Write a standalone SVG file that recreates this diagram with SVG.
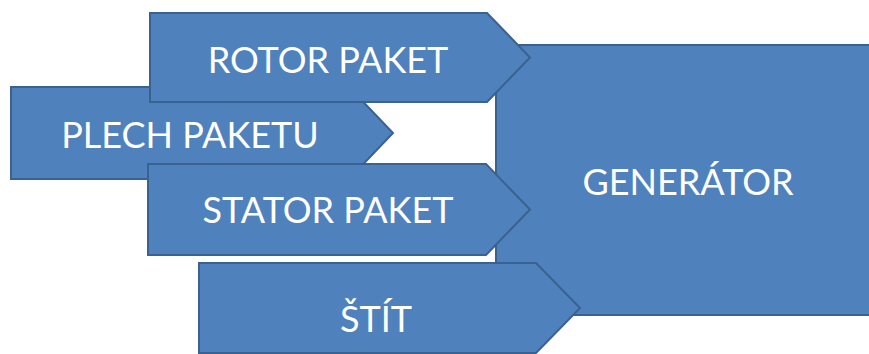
<svg xmlns="http://www.w3.org/2000/svg" width="869" height="354" viewBox="0 0 869 354">
<style>
.s{fill:#4F81BD;stroke:#3A6290;stroke-width:2;stroke-linejoin:miter}
.t{fill:#FFFFFF;font-family:Lato,"Open Sans","Liberation Sans",sans-serif;font-size:36px;text-anchor:middle}
</style>
<rect width="869" height="354" fill="#FFFFFF"/>
<g id="generator">
<rect class="s" x="496" y="45" width="390" height="270"/>
<text class="t" x="688" y="195">GENERÁTOR</text>
</g>
<g id="plech-paketu">
<path class="s" d="M11 87 H349 L393 133 L349 179 H11 Z"/>
<text class="t" x="190" y="148">PLECH PAKETU</text>
</g>
<g id="rotor-paket">
<path class="s" d="M150 13 H487 L530 57.5 L487 102 H150 Z"/>
<text class="t" x="328" y="73">ROTOR PAKET</text>
</g>
<g id="stator-paket">
<path class="s" d="M148 164 H486 L530 209.5 L486 255 H148 Z"/>
<text class="t" x="328" y="223">STATOR PAKET</text>
</g>
<g id="stit">
<path class="s" d="M199 263 H536 L580 308 L536 353 H199 Z"/>
<text class="t" x="376" y="332">ŠTÍT</text>
</g>
<g id="connectors"></g>
</svg>
